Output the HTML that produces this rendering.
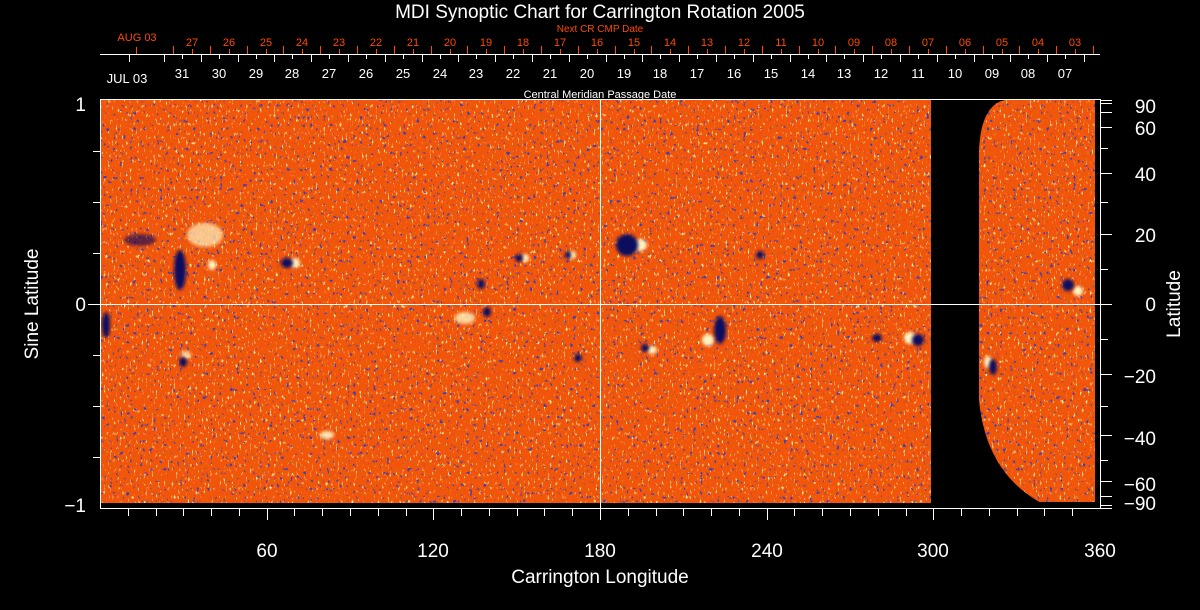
<!DOCTYPE html>
<html><head><meta charset="utf-8"><style>
html,body{margin:0;padding:0;background:#000;}
svg{display:block;font-family:"Liberation Sans",sans-serif;}
</style></head><body>
<svg width="1200" height="610" viewBox="0 0 1200 610" xmlns="http://www.w3.org/2000/svg">
<defs>
<filter id="fy" x="0" y="0" width="1" height="1">
<feTurbulence type="fractalNoise" baseFrequency="0.5 0.22" numOctaves="2" seed="3"/>
<feColorMatrix type="matrix" values="0 0 0 0 1  0 0 0 0 0.8  0 0 0 0 0.3  7 0 0 0 -4.5"/>
</filter>
<filter id="fr" x="0" y="0" width="1" height="1">
<feTurbulence type="fractalNoise" baseFrequency="0.55 0.25" numOctaves="2" seed="8"/>
<feColorMatrix type="matrix" values="0 0 0 0 0.78  0 0 0 0 0.12  0 0 0 0 0  0 6 0 0 -3.0"/>
</filter>
<filter id="fb" x="0" y="0" width="1" height="1">
<feTurbulence type="fractalNoise" baseFrequency="0.3 0.25" numOctaves="2" seed="15"/>
<feColorMatrix type="matrix" values="0 0 0 0 0.05  0 0 0 0 0.05  0 0 0 0 0.45  0 0 12 0 -8.0"/>
</filter>
<filter id="bl"><feGaussianBlur stdDeviation="1.5"/></filter>
<clipPath id="dc"><rect x="100" y="100" width="995" height="403"/></clipPath>
</defs>

<g clip-path="url(#dc)">
<rect x="100" y="100" width="995" height="405" fill="#f5520e"/>
<rect x="100" y="100" width="995" height="405" filter="url(#fr)"/>
<rect x="100" y="100" width="995" height="405" filter="url(#fy)"/>
<rect x="100" y="100" width="995" height="405" filter="url(#fb)"/>
<g fill="#fff4c0" filter="url(#bl)">
<ellipse cx="205" cy="235" rx="18" ry="12" opacity="0.7"/>
<ellipse cx="212" cy="265" rx="4" ry="5"/>
<ellipse cx="295" cy="263" rx="5" ry="5"/>
<ellipse cx="465" cy="318" rx="10" ry="6" opacity="0.8"/>
<ellipse cx="525" cy="258" rx="4" ry="4"/>
<ellipse cx="572" cy="255" rx="4" ry="4"/>
<ellipse cx="640" cy="245" rx="7" ry="6"/>
<ellipse cx="708" cy="340" rx="6" ry="6"/>
<ellipse cx="652" cy="350" rx="5" ry="4"/>
<ellipse cx="910" cy="338" rx="6" ry="6"/>
<ellipse cx="1078" cy="291" rx="5" ry="5"/>
<ellipse cx="988" cy="362" rx="4" ry="6"/>
<ellipse cx="327" cy="435" rx="7" ry="4" opacity="0.9"/>
<ellipse cx="186" cy="355" rx="5" ry="4" opacity="0.8"/>
</g>
<g fill="#0a0a60" filter="url(#bl)">
<ellipse cx="180" cy="270" rx="6" ry="20"/>
<ellipse cx="140" cy="240" rx="16" ry="6" opacity="0.6"/>
<ellipse cx="106" cy="325" rx="4" ry="13"/>
<ellipse cx="287" cy="263" rx="6" ry="5"/>
<ellipse cx="481" cy="284" rx="4" ry="5"/>
<ellipse cx="487" cy="312" rx="4" ry="5"/>
<ellipse cx="519" cy="258" rx="4" ry="4"/>
<ellipse cx="568" cy="255" rx="3" ry="4"/>
<ellipse cx="627" cy="245" rx="11" ry="11"/>
<ellipse cx="760" cy="255" rx="4" ry="4"/>
<ellipse cx="645" cy="348" rx="4" ry="4"/>
<ellipse cx="720" cy="330" rx="6" ry="14"/>
<ellipse cx="918" cy="340" rx="6" ry="6"/>
<ellipse cx="877" cy="338" rx="5" ry="4"/>
<ellipse cx="1068" cy="285" rx="6" ry="6"/>
<ellipse cx="993" cy="367" rx="4" ry="8"/>
<ellipse cx="183" cy="362" rx="4" ry="5"/>
<ellipse cx="578" cy="358" rx="4" ry="4"/>
</g>
<path d="M931 100 L1005 100 Q981 105 979 150 L979 400 Q986 475 1045 505 L931 505 Z" fill="#000"/>
<rect x="931" y="502" width="170" height="6" fill="#000"/>
</g>

<g stroke="#fff" stroke-width="1" fill="none">
<rect x="100.5" y="99.5" width="1000" height="409"/>
<line x1="600.5" y1="99" x2="600.5" y2="509"/>
<line x1="100" y1="304.5" x2="1100" y2="304.5"/>
<line x1="100" y1="54.5" x2="1100" y2="54.5"/>
</g>
<g id="ticks" stroke="#fff" stroke-width="1"></g>
<g id="rticks" stroke="#ff4a00" stroke-width="1"></g>

<text x="600" y="18" fill="#fff" font-size="19" text-anchor="middle">MDI Synoptic Chart for Carrington Rotation 2005</text>
<text x="600" y="32" fill="#ff4a00" font-size="10" text-anchor="middle">Next CR CMP Date</text>
<text x="600" y="98" fill="#fff" font-size="11" text-anchor="middle">Central Meridian Passage Date</text>
<text x="600" y="583" fill="#fff" font-size="19" text-anchor="middle">Carrington Longitude</text>
<text transform="translate(38,304) rotate(-90)" fill="#fff" font-size="19" text-anchor="middle">Sine Latitude</text>
<text transform="translate(1180,304) rotate(-90)" fill="#fff" font-size="19" text-anchor="middle">Latitude</text>

<g fill="#ff4a00" font-size="11" text-anchor="middle">
<text x="137" y="41">AUG 03</text>
<text x="192" y="46">27</text><text x="229" y="46">26</text><text x="266" y="46">25</text><text x="302" y="46">24</text><text x="339" y="46">23</text><text x="376" y="46">22</text><text x="413" y="46">21</text><text x="450" y="46">20</text><text x="486" y="46">19</text><text x="523" y="46">18</text><text x="560" y="46">17</text><text x="597" y="46">16</text><text x="634" y="46">15</text><text x="670" y="46">14</text><text x="707" y="46">13</text><text x="744" y="46">12</text><text x="781" y="46">11</text><text x="818" y="46">10</text><text x="854" y="46">09</text><text x="891" y="46">08</text><text x="928" y="46">07</text><text x="965" y="46">06</text><text x="1002" y="46">05</text><text x="1038" y="46">04</text><text x="1075" y="46">03</text>
</g>
<g fill="#fff" font-size="13" text-anchor="middle">
<text x="127" y="83">JUL 03</text>
<text x="182" y="78">31</text><text x="219" y="78">30</text><text x="256" y="78">29</text><text x="292" y="78">28</text><text x="329" y="78">27</text><text x="366" y="78">26</text><text x="403" y="78">25</text><text x="440" y="78">24</text><text x="476" y="78">23</text><text x="513" y="78">22</text><text x="550" y="78">21</text><text x="587" y="78">20</text><text x="624" y="78">19</text><text x="660" y="78">18</text><text x="697" y="78">17</text><text x="734" y="78">16</text><text x="771" y="78">15</text><text x="808" y="78">14</text><text x="844" y="78">13</text><text x="881" y="78">12</text><text x="918" y="78">11</text><text x="955" y="78">10</text><text x="992" y="78">09</text><text x="1028" y="78">08</text><text x="1065" y="78">07</text>
</g>
<g fill="#fff" font-size="19" text-anchor="middle">
<text x="267" y="557">60</text><text x="433" y="557">120</text><text x="600" y="557">180</text><text x="767" y="557">240</text><text x="933" y="557">300</text><text x="1100" y="557">360</text>
</g>
<g fill="#fff" font-size="19" text-anchor="end">
<text x="86" y="111">1</text><text x="86" y="311">0</text><text x="86" y="512">−1</text>
</g>
<g fill="#fff" font-size="19" text-anchor="end">
<text x="1156" y="113">90</text><text x="1156" y="135">60</text><text x="1156" y="181">40</text><text x="1156" y="242">20</text><text x="1156" y="311">0</text><text x="1156" y="383">−20</text><text x="1156" y="445">−40</text><text x="1156" y="491">−60</text><text x="1156" y="510">−90</text>
</g>
<script>
(function(){
var ns="http://www.w3.org/2000/svg",w=document.getElementById("ticks"),r=document.getElementById("rticks");
function L(g,x1,y1,x2,y2){var l=document.createElementNS(ns,"line");l.setAttribute("x1",x1);l.setAttribute("y1",y1);l.setAttribute("x2",x2);l.setAttribute("y2",y2);g.appendChild(l);}
var k,x;
L(w,129.5,55,129.5,62);
for(k=0;k<26;k++){x=Math.round(164+36.8*k)+.5;if(x<1100)L(w,x,55,x,62);x=Math.round(182+36.8*k)+.5;if(x<1100)L(w,x,55,x,59);}
L(r,136.5,54,136.5,47);
for(k=0;k<26;k++){x=Math.round(173+36.8*k)+.5;if(x<1100)L(r,x,54,x,46);x=Math.round(192+36.8*k)+.5;if(x<1100)L(r,x,54,x,49);}
for(k=1;k<36;k++){x=Math.round(100+1000*k/36)+.5;L(w,x,509,x,k%6==0?520:516);}
for(k=1;k<8;k++){var y=Math.round(100+408*k/8)+.5;L(w,100,y,k%4==0?88:93,y);}
var lats=[90,80,70,60,50,40,30,20,10,0,-10,-20,-30,-40,-50,-60,-70,-80,-90];
lats.forEach(function(a){var y=Math.round(304-204*Math.sin(a*Math.PI/180))+.5;L(w,1100,y,a%20==0||Math.abs(a)>=60?1112:1108,y);});
})();
</script>
</svg>
</body></html>
